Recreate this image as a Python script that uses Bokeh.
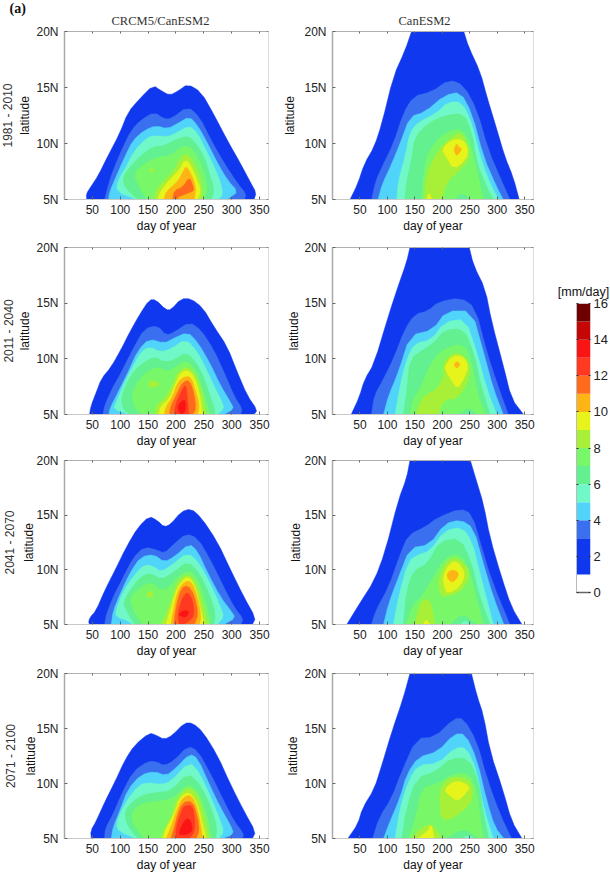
from bokeh.plotting import figure
from bokeh.layouts import row, column
from bokeh.models import LinearAxis, FixedTicker, Title
from bokeh.embed import file_html
from bokeh.resources import INLINE

# colour scale: lower bound of each band, mm/day
band_edges = [1, 3, 4, 5, 6, 7, 8, 9, 10, 11, 12, 13, 14, 15, 16]
band_colors = ["#1038ee", "#3a70f0", "#50d4fa", "#70f8c8", "#62f090", "#78f868", "#a8f038",
               "#e6f41c", "#fdb515", "#ff6a1c", "#ff3a20", "#fa1414", "#c40606", "#6e0000"]
band_index = {1: 0, 3: 1, 4: 2, 5: 3, 6: 4, 7: 5, 8: 6, 9: 7, 10: 8, 11: 9, 12: 10, 13: 11, 14: 12, 15: 13}

periods = ["1981 - 2010", "2011 - 2040", "2041 - 2070", "2071 - 2100"]
columns_titles = ["CRCM5/CanESM2", "CanESM2"]
day_ticks = [50, 100, 150, 200, 250, 300, 350]
lat_ticks = [5, 10, 15, 20]
lat_labels = ["5N", "10N", "15N", "20N"]
bar_ticks = [0, 2, 4, 6, 8, 10, 12, 14, 16]

# contour outlines: (band, [(day, latitude), ...]), painted in this order
crcm_1981 = [
 (1, [(40,5),(39,5.5),(48,6.2),(60,7.1),(78,8.9),(99,10.9),(114,12.8),(135,14),(159,15.2),(174,14.7),(189,14.3),(204,14.7),(221,15.3),(245,14.6),(269,12.5),(293,10.2),(316,8.2),(334,6.5),(344,5.6),(340,5)]),
 (3, [(72,5),(77,6),(87,7.6),(105,9.7),(120,11.2),(137,12.1),(161,12.8),(179,12.2),(191,12.2),(221,13.3),(242,12.4),(263,10.3),(287,8.2),(311,6.4),(326,5.5),(323,5)]),
 (4, [(79,5),(81,5.7),(93,7.1),(108,8.8),(123,10.3),(144,11.2),(164,11.6),(185,11.3),(203,11.8),(224,12.4),(239,11.6),(257,10),(275,8.2),(293,6.7),(311,5.7),(298,5.2),(292,5)]),
 (5, [(129,5),(93,5.7),(96,6.7),(108,7.7),(126,9.4),(149,10.6),(167,10.7),(185,10.6),(203,11),(224,11.6),(239,10.9),(251,9.7),(269,7.9),(281,6.4),(284,5.4),(275,5)]),
 (6, [(131,5),(108,6.1),(105,7),(117,7.9),(137,8.9),(158,9.7),(179,9.8),(197,10.3),(221,10.7),(236,10),(251,8.8),(260,7.3),(269,5.8),(263,5)]),
 (7, [(149,5),(137,5.8),(123,7.3),(143,8.2),(167,8.8),(191,8.9),(209,9.7),(224,9.8),(239,8.8),(251,7.3),(257,5.8),(250,5)]),
 (8, [(161,5),(164,5.8),(179,6.7),(197,7.6),(209,8.8),(221,9.1),(236,7.9),(245,6.7),(248,5)]),
 (8, [(153,7.7),(160,7.8),(159,7.5),(153,7.4)]),
 (9, [(167,5),(173,5.8),(191,6.9),(206,7.6),(215,8.5),(224,8.3),(236,7),(245,5.8),(239,5)]),
 (10, [(179,5),(182,5.7),(203,6.6),(212,7.4),(218,8),(227,7.3),(236,6.1),(233,5)]),
 (11, [(194,5),(197,5.8),(212,6.1),(224,7),(230,6.3),(233,5.8),(218,5.5),(203,5.2),(203,5)]),
]
crcm_2011 = [
 (1, [(45,5),(47,5.7),(57,7),(66,8.2),(84,9.3),(102,10.9),(117,12.4),(135,14),(152,15.3),(164,15.3),(182,14.4),(191,14.4),(209,15.4),(227,15.4),(248,14.6),(268,12.9),(292,11.1),(310,8.8),(328,6.7),(346,5.4),(340,5)]),
 (3, [(69,5),(72,5.8),(84,7.2),(102,8.8),(123,10.9),(143,12.7),(167,13),(182,12.1),(197,12.4),(224,13.3),(245,12.6),(268,10.8),(289,8.5),(304,6.7),(319,5.5),(316,5)]),
 (4, [(80,5),(81,5.5),(96,7),(114,8.8),(132,10.8),(152,11.8),(179,11.4),(194,11.8),(221,12.4),(239,11.5),(260,9.7),(280,7.6),(298,6.1),(304,5.5),(286,5)]),
 (5, [(117,5),(87,5.5),(93,6.1),(105,7.6),(120,9.1),(137,10.6),(152,11.1),(173,10.6),(191,10.9),(218,11.8),(239,10.6),(254,9.1),(268,7.6),(283,6.1),(286,5.5),(274,5)]),
 (6, [(117,5),(105,5.5),(102,6.4),(111,7.8),(126,9),(143,9.7),(161,10.2),(179,9.7),(197,9.9),(218,10.6),(236,9.7),(251,8.2),(263,6.4),(271,5.2),(268,5)]),
 (7, [(140,5),(126,5.5),(120,6.7),(129,7.8),(146,8.8),(167,9.3),(185,8.8),(200,9.3),(218,9.9),(236,9),(248,7.3),(257,5.8),(260,5)]),
 (8, [(164,5),(164,5.8),(179,6.4),(194,7.6),(203,8.8),(218,9.3),(233,8.8),(245,7.3),(251,5.8),(254,5)]),
 (8, [(148,7.7),(158,8.1),(172,7.7),(158,7.4)]),
 (9, [(169,5),(173,5.8),(188,6.4),(200,7.9),(209,8.8),(221,9),(233,8.4),(242,7),(248,5)]),
 (10, [(179,5),(182,5.7),(194,6.6),(203,7.9),(215,8.4),(227,8.4),(236,7),(242,5.8),(239,5)]),
 (11, [(188,5),(191,5.8),(203,7),(212,7.9),(224,8.1),(232,7),(236,5.5),(230,5)]),
 (12, [(197,5),(200,6),(209,7),(218,7.8),(221,6.1),(223,5)]),
 (13, [(206,5.1),(203,5.8),(215,6.4),(218,5.8),(215,5.1)]),
]
crcm_2041 = [
 (1, [(48,5),(43,5.1),(45,5.6),(57,6.3),(72,8.1),(90,9.9),(111,12.1),(132,13.9),(152,14.9),(167,14.5),(179,13.9),(191,14.2),(209,15.3),(227,15.6),(245,14.8),(274,12.6),(298,10),(322,7.5),(343,5.6),(337,5)]),
 (3, [(72,5),(75,5.9),(87,7.5),(105,9.3),(123,11.1),(143,12.1),(167,11.8),(179,11.5),(197,12.4),(218,13.3),(239,12.9),(263,10.8),(286,8.4),(304,6.6),(321,5.5),(316,5)]),
 (4, [(84,5),(87,6.2),(99,7.7),(117,9.7),(137,11.2),(161,11.4),(179,10.7),(197,11.2),(224,12.4),(239,11.7),(257,9.7),(280,7.5),(298,6.3),(307,5.6),(286,5)]),
 (5, [(123,5),(111,5.4),(93,5.7),(92,6.3),(105,8),(123,9.4),(143,10.5),(161,10.3),(173,9.8),(194,10.5),(221,11.6),(242,10.6),(263,8.6),(280,6.6),(286,5.7),(274,5)]),
 (6, [(126,5),(114,6),(105,7),(117,8.1),(137,9.4),(155,9.7),(173,9.1),(194,9.7),(221,10.8),(242,9.7),(260,7.8),(271,6),(268,5)]),
 (7, [(140,5),(123,6.3),(117,7.5),(137,8.4),(155,8.9),(173,8.1),(188,8.4),(203,9.4),(224,10),(239,9.1),(251,7.5),(260,5.7),(262,5)]),
 (8, [(173,5),(182,5.9),(194,7.5),(203,9),(221,9.6),(236,8.9),(248,6.9),(257,5)]),
 (8, [(146,7.8),(155,8.1),(161,7.7),(152,7.4)]),
 (9, [(182,5),(188,6),(200,8.1),(212,9.1),(224,9.4),(236,8.3),(245,6.3),(251,5)]),
 (10, [(191,5),(194,6),(203,8.1),(215,8.9),(227,9),(239,7.5),(245,5.7),(242,5)]),
 (11, [(196,5),(200,6.6),(209,8.3),(221,8.6),(233,7.7),(240,6),(233,5)]),
 (12, [(206,5),(203,6),(212,7.5),(221,8),(230,7.2),(233,5.9),(224,5.3),(212,5)]),
 (13, [(203,5.9),(215,6.3),(224,6.2),(218,5.6)]),
]
crcm_2071 = [
 (1, [(48,5),(47,5.7),(57,6.6),(72,8.3),(90,10.1),(108,12.1),(126,13.5),(152,14.6),(164,14.4),(179,14),(194,14.4),(215,15.5),(230,15.5),(248,14.7),(274,12.6),(298,9.9),(322,7.5),(343,5.6),(337,5)]),
 (3, [(72,5),(73,5.9),(87,7.2),(102,9),(123,11.1),(149,12),(164,12),(179,11.6),(197,12.1),(221,13.4),(239,13),(263,10.8),(286,8.4),(304,6.6),(322,5.4),(319,5)]),
 (4, [(84,5),(87,6),(99,7.5),(114,9.5),(137,10.8),(161,11.1),(182,10.7),(200,11.4),(224,12.7),(239,12.3),(260,9.9),(280,7.8),(298,6.2),(304,5.4),(283,5)]),
 (5, [(129,5),(108,5.4),(93,5.9),(96,6.9),(111,8.4),(132,9.8),(149,10.1),(173,9.9),(191,10.2),(224,12),(242,11),(263,8.7),(280,6.6),(286,5.6),(277,5)]),
 (6, [(131,5),(111,6.3),(108,7.5),(123,8.4),(143,9),(167,9.2),(191,9.3),(221,11),(245,9.8),(263,7.8),(274,6),(271,5)]),
 (7, [(143,5),(123,6.3),(120,7.5),(143,8.3),(173,8.4),(197,8.7),(221,10),(239,9.3),(254,7.5),(263,5.4),(262,5)]),
 (8, [(173,5),(179,5.9),(191,6.9),(200,8.4),(212,9.3),(227,9.6),(242,8.7),(251,6.9),(260,5)]),
 (9, [(177,5),(182,5.9),(197,7.2),(206,8.7),(224,9.3),(239,8.1),(248,6.3),(254,5)]),
 (10, [(182,5),(191,6),(203,7.8),(212,8.7),(227,9),(239,7.7),(245,6),(248,5)]),
 (11, [(191,5),(197,6),(203,7.2),(212,8.3),(230,8.4),(239,6.9),(242,5.7),(236,5)]),
 (12, [(200,5),(200,6),(209,7.4),(215,8),(230,8),(234,6.6),(233,5.6),(224,5)]),
 (13, [(203,5.4),(218,6.9),(227,6.6),(230,5.7),(218,5.3)]),
]
can_1981 = [
 (1, [(32,5),(46,6.4),(58,8.2),(76,9.7),(90,11.8),(111,16),(132,18.3),(144,20),(239,20),(248,18.6),(269,16.4),(281,14.2),(299,11.3),(314,8.8),(329,7),(340,5)]),
 (3, [(71,5),(79,6.7),(90,7.9),(111,10),(129,12.7),(147,14.2),(180,14.6),(212,15.7),(239,15.2),(263,13),(284,9.4),(305,7),(323,5)]),
 (4, [(83,5),(90,6.3),(108,8.2),(123,10),(141,12.4),(168,12.8),(204,14.3),(233,14.6),(254,12.7),(275,8.8),(299,6.1),(311,5)]),
 (5, [(117,5),(120,6.7),(132,8.8),(141,11),(156,11.9),(189,12.7),(210,13.7),(236,13.7),(254,11.8),(269,8.8),(287,6.4),(302,5)]),
 (6, [(132,5),(135,6.7),(144,8.5),(150,10.6),(174,11.8),(204,12.5),(239,12.7),(254,11),(263,8.2),(281,6.1),(293,5)]),
 (7, [(162,5),(165,7),(171,8.8),(186,10.1),(210,11.1),(236,11.3),(251,10),(260,8.2),(275,5)]),
 (6, [(222,5),(236,5.6),(251,5)]),
 (8, [(168,5),(171,7.3),(186,8.8),(198,9.7),(213,10.4),(233,11.1),(248,9.7),(248,8.5),(227,7.4),(210,6.7),(198,5)]),
 (9, [(199,9.5),(216,10.3),(236,10.4),(248,9.5),(242,8.5),(221,7.7),(207,8.8)]),
 (9, [(171,5),(176,5.6),(181,5)]),
 (10, [(221,9.5),(226,10),(230,9.7),(236,9.5),(227,8.9),(223,9.1)]),
]
can_2011 = [
 (1, [(34,5),(49,6.6),(58,8.1),(76,9.6),(102,13.9),(120,16.6),(135,18.7),(141,20),(249,20),(257,18.4),(278,16.3),(290,13.3),(311,9.4),(326,6.4),(348,5)]),
 (3, [(71,5),(76,6.7),(93,8.2),(111,10),(132,12.7),(150,14),(174,14.3),(192,15.1),(233,15.5),(260,14.6),(281,10.6),(299,7.9),(320,5)]),
 (4, [(93,5),(102,6.7),(120,8.8),(141,12.1),(183,12.6),(207,14.3),(254,14.3),(275,10.6),(293,7.3),(311,5)]),
 (5, [(114,5),(123,7.6),(135,10),(150,11.4),(180,11.7),(204,13.3),(242,13.6),(263,10.6),(281,7.3),(299,5)]),
 (6, [(129,5),(135,7),(141,10),(168,10.9),(186,11.5),(204,12.6),(239,12.7),(257,10.6),(272,7.3),(287,5)]),
 (7, [(141,5),(147,6.4),(162,7.6),(180,9.7),(201,10.9),(239,11.4),(254,9.7),(263,7),(278,5)]),
 (6, [(230,5),(248,5.6),(263,5)]),
 (8, [(152,5),(162,6.4),(174,6.9),(189,7.2),(204,8.5),(201,9.6),(221,10.6),(242,10.2),(251,9.1),(245,7.8),(227,6.4),(204,6.4),(192,5)]),
 (9, [(204,9.3),(219,10.3),(239,10.2),(248,9.3),(239,8.2),(227,7.3),(215,8.2),(208,8.8)]),
 (10, [(221,9.5),(227,9.8),(233,9.5),(226,9.1)]),
]
can_2041 = [
 (1, [(26,5),(49,6.9),(76,9),(96,11.7),(120,16.4),(135,18.4),(141,20),(251,20),(263,18),(275,16),(287,12.9),(308,9.3),(326,6.6),(345,5)]),
 (3, [(71,5),(79,6.3),(102,8.4),(123,11.4),(138,13.2),(168,13.9),(192,14.8),(233,15.6),(254,15.1),(272,12),(290,9),(323,5)]),
 (4, [(93,5),(102,6.9),(120,9.3),(141,12),(177,12.3),(204,14.2),(233,14.6),(257,13.8),(275,10.5),(293,7.5),(312,5)]),
 (5, [(111,5),(120,7.5),(138,10.8),(156,11.4),(177,11.7),(204,13.6),(236,13.9),(254,12.6),(269,9.6),(293,5)]),
 (6, [(129,5),(135,8.1),(147,9.9),(174,10.6),(195,12.6),(233,12.9),(254,10.5),(266,7.8),(287,5)]),
 (7, [(135,5),(147,6.9),(162,7.5),(180,9),(204,11.1),(233,11.5),(251,9.7),(263,7.2),(275,5)]),
 (6, [(215,5),(236,6),(263,5)]),
 (5, [(233,5),(242,5.4),(251,5)]),
 (8, [(150,5),(159,6.9),(171,7.4),(180,6.9),(186,5)]),
 (8, [(192,9),(204,10.5),(221,11.2),(242,10.5),(251,9.6),(236,8.1),(215,7.7),(198,7.5)]),
 (9, [(165,5),(171,5.5),(177,5)]),
 (9, [(201,9.4),(213,10.6),(227,10.8),(242,9.7),(233,8.5),(210,7.8),(204,8.4)]),
 (10, [(208,9.6),(215,10),(227,9.9),(230,9.4),(218,8.8),(210,9.2)]),
]
can_2071 = [
 (1, [(28,5),(46,6.3),(55,7.8),(76,9.5),(90,11.7),(108,14.7),(129,17.8),(141,20),(253,20),(263,18),(275,16.2),(287,12.9),(311,9.3),(326,6.6),(345,5)]),
 (3, [(73,5),(85,6.9),(108,8.7),(126,11.1),(153,14.1),(186,14.2),(221,15.9),(239,15.9),(263,13.8),(281,10.5),(305,7.2),(326,5)]),
 (4, [(93,5),(105,6.6),(123,8.7),(135,10.8),(156,12.4),(192,12.9),(221,14.5),(242,14.5),(263,12.2),(281,8.4),(296,6),(312,5)]),
 (5, [(114,5),(123,7.8),(138,10.2),(156,11.7),(192,11.8),(224,13.3),(245,13.2),(263,11.1),(275,7.8),(293,5)]),
 (6, [(126,5),(135,7.8),(153,10.5),(189,11.1),(215,12.3),(248,12.3),(266,10.2),(275,7.2),(284,5)]),
 (7, [(138,5),(150,6.6),(162,9.6),(192,10),(215,10.8),(248,11),(263,9.3),(269,6.9),(275,5)]),
 (6, [(207,5),(239,5.9),(266,5)]),
 (5, [(236,5),(248,5.3),(257,5)]),
 (8, [(144,5),(162,6),(180,6.3),(192,5.6),(198,5)]),
 (8, [(195,8.7),(198,9.7),(215,10.6),(245,10.5),(257,9.5),(251,8.1),(221,6.9),(198,6.6)]),
 (9, [(156,5),(174,5.7),(180,6.4),(185,5)]),
 (9, [(204,9.4),(215,10),(227,10.2),(242,10),(250,9.6),(239,8.9),(227,8.4),(213,8.9)]),
]

SANS = "Liberation Sans"
SERIF = "Liberation Serif"


def rounded(pts):
    """Cut the corners of an outline, leaving points on the 5N and 20N edges where they are."""
    out = []
    n = len(pts)
    for i, (x, y) in enumerate(pts):
        if y <= 5 or y >= 20:
            out.append((x, y))
            continue
        x0, y0 = pts[i - 1]
        x1, y1 = pts[(i + 1) % n]
        out.append((x + (x0 - x) * 0.25, y + (y0 - y) * 0.25))
        out.append((x + (x1 - x) * 0.25, y + (y1 - y) * 0.25))
    return out


def panel(polys, w, h, left, right, top, bottom, lat_standoff, period=None, period_standoff=0):
    p = figure(width=w, height=h, x_range=(0, 366), y_range=(5, 20), output_backend="svg",
               toolbar_location=None, min_border_left=left, min_border_right=right,
               min_border_top=top, min_border_bottom=bottom, background_fill_color="white",
               outline_line_color=None)
    p.grid.visible = False
    for band, pts in polys:
        c = band_colors[band_index[band]]
        pts = rounded(pts)
        p.patch([q[0] for q in pts], [q[1] for q in pts], fill_color=c, line_color=c, line_width=0.5)
    xa, ya = p.xaxis[0], p.yaxis[0]
    xa.ticker = FixedTicker(ticks=day_ticks)
    ya.ticker = FixedTicker(ticks=lat_ticks)
    ya.major_label_overrides = dict(zip(lat_ticks, lat_labels))
    xa.axis_label, ya.axis_label = "day of year", "latitude"
    for ax in (xa, ya):
        ax.major_tick_in, ax.major_tick_out = 3, 0
        ax.minor_tick_line_color = None
        ax.major_tick_line_color = "#666666"
        ax.major_label_text_font = SANS
        ax.major_label_text_font_size = "12px"
        ax.major_label_text_color = "#222222"
        ax.axis_label_text_font = SANS
        ax.axis_label_text_font_size = "12px"
        ax.axis_label_text_font_style = "normal"
        ax.axis_label_text_color = "#111111"
    xa.axis_line_color, xa.axis_line_width = "#c8c8c8", 1
    ya.axis_line_color, ya.axis_line_width = "#a8a8a8", 1.5
    xa.major_label_standoff = 5
    ya.major_label_standoff = 6
    xa.axis_label_standoff = 2
    ya.axis_label_standoff = lat_standoff
    if period:
        pa = LinearAxis(ticker=FixedTicker(ticks=[]), axis_label=period, axis_line_color=None,
                        major_tick_line_color=None, minor_tick_line_color=None,
                        major_tick_in=0, major_tick_out=0, major_label_standoff=0,
                        axis_label_standoff=period_standoff, axis_label_text_font=SANS,
                        axis_label_text_font_size="12px", axis_label_text_font_style="normal",
                        axis_label_text_color="#333333")
        p.add_layout(pa, "left")
    top_ax = LinearAxis(ticker=FixedTicker(ticks=day_ticks),
                        major_label_overrides={t: "" for t in day_ticks},
                        major_label_standoff=0,
                        axis_line_color="#b0b0b0", major_tick_in=2, major_tick_out=0,
                        major_tick_line_color="#666666", minor_tick_line_color=None)
    right_ax = LinearAxis(ticker=FixedTicker(ticks=lat_ticks),
                          major_label_overrides={t: "" for t in lat_ticks},
                          major_label_standoff=0,
                          axis_line_color="#dddddd", major_tick_in=2, major_tick_out=0,
                          major_tick_line_color="#888888", minor_tick_line_color=None)
    p.add_layout(top_ax, "above")
    p.add_layout(right_ax, "right")
    return p


def add_title(p, text, offset, size, font, style, color, standoff):
    p.add_layout(Title(text=text, align="left", offset=offset, text_font=font, text_font_size=size,
                       text_font_style=style, text_color=color, standoff=standoff), "above")


a1 = panel(crcm_1981, 283, 235, 66, 12, 31, 36, 1, periods[0], 1)
a2 = panel(crcm_2011, 283, 215, 66, 12, 12, 36, 1, periods[1], 0)
a3 = panel(crcm_2041, 283, 210, 66, 12, 10, 32, -3, periods[2], 3)
a4 = panel(crcm_2071, 283, 214, 66, 12, 13, 32, -5, periods[3], 4)
b1 = panel(can_1981, 260, 235, 49, 7, 31, 36, 4)
b2 = panel(can_2011, 260, 215, 49, 7, 12, 36, 0)
b3 = panel(can_2041, 260, 210, 49, 7, 10, 32, -2)
b4 = panel(can_2071, 260, 214, 49, 7, 13, 32, 1)
add_title(a1, columns_titles[0], 47, "12.5px", SERIF, "normal", "#333333", 8)
add_title(b1, columns_titles[1], 66, "12.5px", SERIF, "normal", "#333333", 7)
add_title(a1, "(a)", -55, "14px", SERIF, "bold", "#111111", -16)

bar = figure(width=70, height=874, x_range=(0, 1), y_range=(0, 16), output_backend="svg",
             toolbar_location=None, min_border_left=36, min_border_right=18, min_border_top=303,
             min_border_bottom=282, outline_line_color=None, y_axis_location="right")
bar.grid.visible = False
bar.quad(left=0, right=1, bottom=band_edges[:-1], top=band_edges[1:], fill_color=band_colors,
         line_color=None)
bar.xaxis.ticker = FixedTicker(ticks=[])
bar.xaxis.minor_tick_line_color = None
bar.xaxis.axis_line_color = "#666666"
bar.xaxis.axis_line_width = 1.5
r = bar.yaxis[0]
r.ticker = FixedTicker(ticks=bar_ticks)
r.major_tick_in, r.major_tick_out = 2, 0
r.major_tick_line_color = "#333333"
r.minor_tick_line_color = None
r.axis_line_color = None
r.major_label_standoff = 3
r.major_label_text_font = SANS
r.major_label_text_font_size = "13px"
r.major_label_text_color = "#222222"
bar_left = LinearAxis(ticker=FixedTicker(ticks=bar_ticks),
                      major_label_overrides={t: "" for t in bar_ticks},
                      major_label_standoff=0,
                      axis_line_color="#bbbbbb", major_tick_in=2, major_tick_out=0,
                      major_tick_line_color="#333333", minor_tick_line_color=None)
bar.add_layout(bar_left, "left")
bar.add_layout(Title(text="[mm/day]", align="center", text_font=SANS, text_font_size="12.5px",
                     text_font_style="normal", text_color="#111111", standoff=9), "above")

left_col = column(a1, a2, a3, a4, spacing=0, margin=(0, 0, 0, -3))
page = row(left_col, column(b1, b2, b3, b4, spacing=0), bar, spacing=0)

open("out.html", "w").write(file_html(page, INLINE))
